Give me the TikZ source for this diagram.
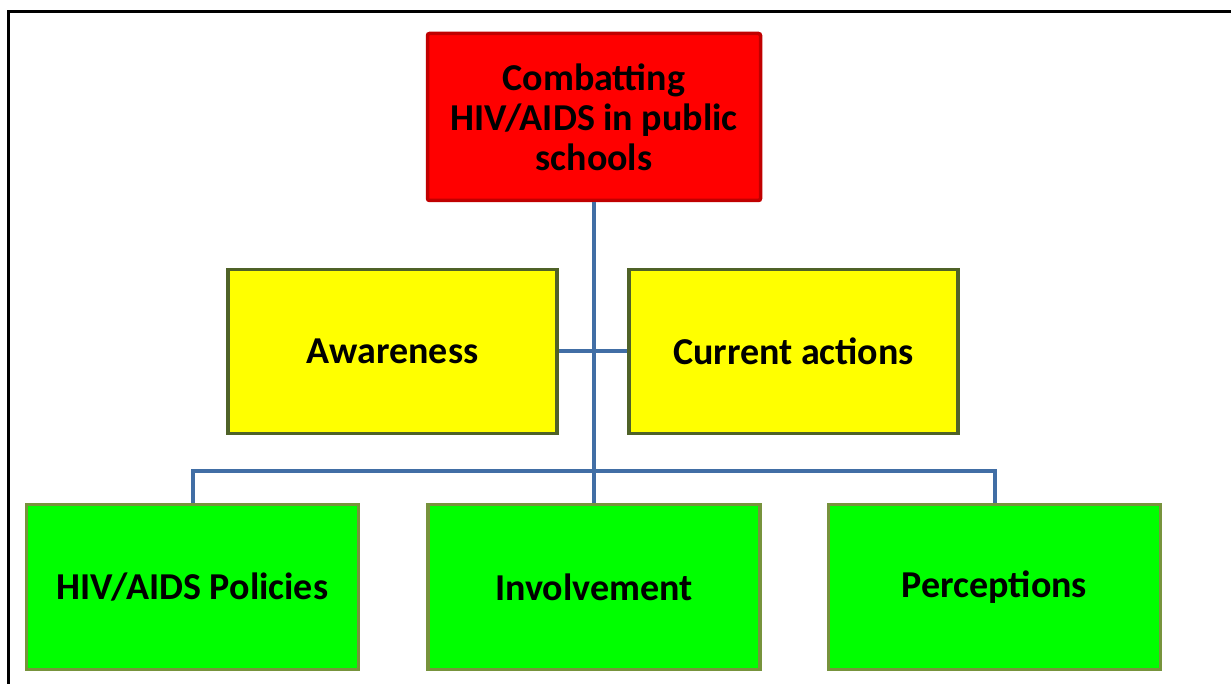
\documentclass[tikz,border=0pt]{standalone}
\usepackage{fontspec}
\setmainfont{Carlito}
\definecolor{redfill}{RGB}{255,0,0}
\definecolor{redline}{RGB}{192,0,0}
\definecolor{yelfill}{RGB}{255,255,0}
\definecolor{yelline}{RGB}{79,98,40}
\definecolor{grnfill}{RGB}{0,255,0}
\definecolor{grnline}{RGB}{119,147,60}
\definecolor{conn}{RGB}{65,110,165}
\tikzset{
  box/.style={rectangle, line width=3.5pt, font=\fontsize{38}{40}\selectfont\bfseries, align=center, inner sep=0pt},
  topbox/.style={box, draw=redline, fill=redfill, minimum width=333pt, minimum height=167pt, rounded corners=2pt},
  yelbox/.style={box, draw=yelline, fill=yelfill, minimum width=329pt, minimum height=164pt},
  grnbox/.style={box, draw=grnline, fill=grnfill, minimum width=332pt, minimum height=165pt},
  link/.style={draw=conn, line width=4pt}
}
\begin{document}
\begin{tikzpicture}[x=1pt,y=-1pt]
\useasboundingbox (0,0) rectangle (1231,684);
\draw[line width=3pt] (8,684) -- (8,12) -- (1231,12);
\coordinate (bus) at (594,470.5);
\node[topbox] (top) at (594,117) {Combatting\\HIV/AIDS in public\\schools};
\node[yelbox] (aw) at (392.5,351.5) {Awareness};
\node[yelbox] (ca) at (793.5,351.5) {Current actions};
\node[grnbox] (pol) at (192.5,587) {HIV/AIDS Policies};
\node[grnbox] (inv) at (594,587) {Involvement};
\node[grnbox] (per) at (994.5,587) {Perceptions};
\draw[link] (top.south) -- (inv.north);
\draw[link] (aw.east) -- (ca.west);
\draw[link] (pol.north) |- (bus) -| (per.north);
\end{tikzpicture}
\end{document}
